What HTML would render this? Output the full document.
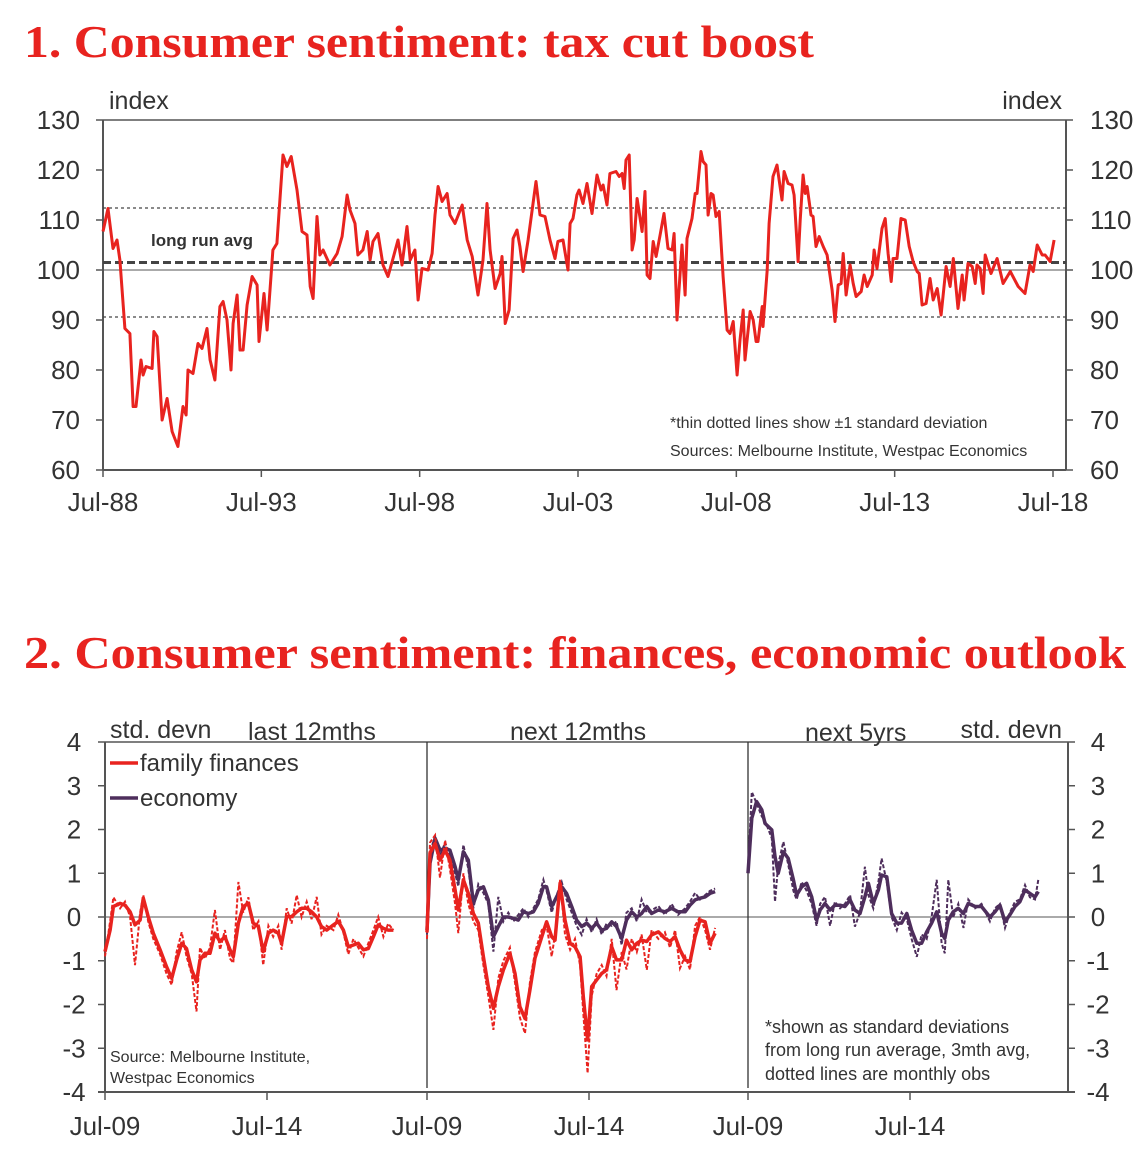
<!DOCTYPE html>
<html><head><meta charset="utf-8">
<style>
html,body{margin:0;padding:0;background:#fff;}
svg{display:block;font-family:"Liberation Sans",sans-serif;}
.t{font-family:"Liberation Serif",serif;font-weight:bold;fill:#e8231f;}
</style></head>
<body>
<svg id="svg" width="1141" height="1163" viewBox="0 0 1141 1163" xmlns="http://www.w3.org/2000/svg">
<text class="t" x="24" y="57" font-size="46" textLength="790" lengthAdjust="spacingAndGlyphs">1. Consumer sentiment: tax cut boost</text>
<text class="t" x="24" y="668" font-size="46" textLength="1102" lengthAdjust="spacingAndGlyphs">2. Consumer sentiment: finances, economic outlook</text>
<g id="c1"></g>
<g id="c2"></g>
</svg>
<script>
// ---------- Chart 1 data ----------
const c1Months = [0,1.9,3.8,5.3,6.4,8.3,10.2,11.4,12.5,14.4,15.2,16.3,18.6,19.3,20.5,22.4,24.3,26.2,28.4,30.3,31.5,32.2,34.1,36.0,37.5,39.4,40.6,42.4,44.3,45.5,47.0,48.5,49.3,50.8,51.9,53.1,54.6,56.5,58.4,59.1,61.0,62.2,64.4,65.9,68.2,69.7,71.3,73.5,75.4,77.3,78.5,79.6,81.1,82.2,83.4,86.0,88.7,90.6,92.5,93.6,95.5,96.6,98.5,100.1,101.2,102.3,104.2,106.1,108.0,109.9,111.8,113.3,115.2,116.4,118.2,119.4,120.9,123.2,124.7,125.8,127.0,128.5,130.4,131.5,133.4,136.1,138.0,139.9,142.1,144.0,145.5,146.7,148.6,150.5,151.2,152.4,153.9,155.4,156.9,158.0,159.2,161.1,164.1,165.6,167.5,169.4,171.3,172.4,174.3,176.2,
177.0,178.1,179.6,180.4,181.9,183.4,185.3,187.2,188.7,189.5,191.0,192.1,194.4,195.6,196.7,197.5,198.2,199.4,200.5,201.3,202.4,204.3,205.4,206.2,207.3,208.5,209.6,211.1,212.6,214.1,215.7,216.4,217.5,219.4,220.6,221.3,223.2,224.4,225.1,226.6,227.4,228.5,229.3,230.4,231.2,232.3,233.5,235.0,236.5,237.6,238.8,240.3,241.4,242.6,243.3,245.2,246.4,247.5,248.2,249.8,250.1,251.7,252.4,253.9,255.4,257.3,258.1,259.6,261.1,261.9,263.4,264.2,265.3,266.1,266.8,268.3,269.1,270.2,271.4,272.9,274.4,276.3,277.4,278.6,279.7,280.5,281.6,283.1,284.3,285.4,287.3,288.4,289.6,291.5,292.2,293.3,295.2,296.4,297.5,298.7,299.4,300.9,302.4,304.0,305.5,307.0,308.5,309.3,310.4,311.9,313.4,314.6,316.1,317.6,319.5,321.0,322.2,324.0,325.6,326.3,327.8,329.4,330.5,331.2,332.4,333.5,334.3,336.5,338.8,341.1,343.8,346.8,349.4,351.3,352.5,354.0,355.9,357.0,358.9,360.4];
const c1Values = [107.7,112.3,104.3,106,102,88.3,87.3,72.7,72.7,82,79,80.7,80.3,87.7,86.7,70,74.3,67.7,64.7,72.7,71,80,79.3,85.3,84.3,88.3,82,78,92.7,93.7,90,80,89.3,95,84,84,93,98.7,97,85.7,95.3,88,104,105.3,123,120.7,122.7,116,107.7,107,96.7,94.3,110.7,103,104,101,103.3,106.7,115,112,109.3,103,104,107.7,102,105.7,107.3,101,98.7,102.3,106,101,108.7,102,104,94,100.3,100,103.3,111,116.7,113.7,115.3,111,109.3,113,106,102.7,95,102,113.3,104,96.3,99.3,102.7,89.3,92,106.3,108,104.7,99.7,106,117.7,111,110.7,106,102.3,105.7,106,100,
109.3,110.3,115,116,113.3,117.3,111.3,119,116,117,113,119.3,119.7,118.7,119.3,116.3,122,123,104,106,114.3,107.7,115.7,99,98.3,105.7,102.7,107,111.3,104.3,104,107.3,90,105,95,106.3,110.3,115.3,115.3,123.7,121.7,121,111,115.3,115,110.7,111.7,98.7,88,87.3,89.7,79,86,92,82,91.7,90,85.7,85.7,92.7,88.7,100,109.3,118.7,121,114,119.7,117.3,117,115,101.7,110,119,115.3,116.7,111,110.7,104.7,106.7,104.7,103,96,89.7,97,97.3,103.3,95,101,97.3,94.7,95.7,99,96.7,99,104,100.3,108.3,110.3,103.3,97.7,102.3,102.3,110.3,110,104.7,101.7,99.7,99.3,93,93.3,98.3,94,96.3,91,100.7,96.7,102.3,92.3,99,94,101.3,100.7,97.3,101,100.3,95.3,103,99.3,102.3,97.3,99.7,96.7,95.3,101,99.7,105,103,103,101.7,106];
const c1YTicks = [60,70,80,90,100,110,120,130];
const c1XLabels = ["Jul-88","Jul-93","Jul-98","Jul-03","Jul-08","Jul-13","Jul-18"];
const c1Avg = 101.5;
const c1SdHigh = 112.4;
const c1SdLow = 90.6;

// ---------- Chart 2 data ----------
const p1Months = [0,1.9,3.1,5.6,7.4,9.3,11.1,13,14.2,16,17.9,20.4,22.8,24.7,26.5,28.4,30.2,32.1,33.9,35.2,37,38.9,40.7,42.6,44.4,46.3,47.5,49.4,51.2,53.1,54.9,56.8,58.6,60.5,62.3,64.2,65.4,67.3,69.1,71,72.8,74.7,76.5,78.4,80.2,82.1,84.6,86.4,88.3,90.1,92,93.8,95.7,97.5,99.4,101.2,103.1,104.9,106.8];
const p1Family = [-0.79,-0.3,0.24,0.31,0.27,0.12,-0.18,-0.07,0.43,0.01,-0.37,-0.75,-1.14,-1.4,-0.98,-0.6,-0.72,-1.21,-1.48,-0.98,-0.83,-0.83,-0.37,-0.56,-0.45,-0.75,-0.91,-0.14,0.24,0.31,-0.14,-0.22,-0.79,-0.37,-0.3,-0.37,-0.6,0.01,0.01,0.12,0.2,0.2,0.12,0,-0.22,-0.3,-0.18,-0.1,-0.3,-0.68,-0.64,-0.6,-0.75,-0.72,-0.45,-0.18,-0.26,-0.3,-0.3];
const p1FamilyMonthly = [-0.9,-0.1,0.45,0.2,0.35,0.0,-1.1,0.1,0.5,-0.1,-0.5,-0.85,-1.3,-1.55,-0.8,-0.35,-0.9,-1.3,-2.16,-0.7,-0.95,-0.7,0.16,-0.75,-0.3,-0.95,-1.05,0.8,0.1,0.45,-0.3,-0.1,-1.1,-0.2,-0.45,-0.2,-0.75,0.2,-0.15,0.5,0.0,0.35,-0.05,0.46,-0.4,-0.2,-0.3,0.05,-0.35,-0.85,-0.5,-0.7,-0.9,-0.6,-0.3,0.0,-0.45,-0.15,-0.3];
const p2FamMonths = [0,1.1,3,4.8,6.7,8.5,10.4,11.6,13.5,15.3,17.2,19,20.9,22.7,24.6,26.4,28.3,30.7,32.6,34.4,36.3,38.1,40,42.5,44.3,46.2,47.4,49.3,51.1,53,54.8,56.7,57.9,59.5,61,62.8,64.7,66.5,68.4,70.2,72.1,73.9,75.8,77.7,79.5,81.4,83.2,85.7,88.1,90,91.9,93.7,95.6,97.4,99.3,101.1,103,104.8,106.7];
const p2Family = [-0.35,1.46,1.68,1.3,1.53,1.3,0.62,0.16,0.85,0.54,0.08,-0.14,-0.91,-1.59,-2.09,-1.59,-1.21,-0.83,-1.29,-2.05,-2.32,-1.67,-0.94,-0.45,-0.11,-0.45,-0.53,0.77,-0.07,-0.6,-0.68,-0.91,-1.82,-2.81,-1.59,-1.44,-1.29,-1.21,-0.68,-0.98,-0.98,-0.53,-0.75,-0.6,-0.53,-0.56,-0.41,-0.34,-0.49,-0.56,-0.45,-0.75,-0.98,-1.02,-0.45,-0.07,-0.11,-0.6,-0.37];
const p2FamilyMonthly = [-0.5,1.7,1.87,0.9,1.75,1.1,0.3,-0.37,1.0,0.3,-0.1,-0.3,-1.1,-1.8,-2.58,-1.4,-1.0,-0.7,-1.5,-2.3,-2.66,-1.5,-0.8,-0.3,-0.2,-0.9,-0.4,0.85,-0.4,-0.75,-0.5,-1.1,-2.2,-3.57,-1.8,-1.3,-1.1,-1.35,-0.5,-1.67,-0.8,-1.2,-0.5,-0.8,-0.4,-1.21,-0.3,-0.5,-0.35,-0.7,-0.3,-1.17,-0.9,-1.2,-0.2,0.0,-0.3,-0.75,-0.25];
const p2EcoMonths = [0,1.1,3,4.8,6.7,8.5,10.4,11.6,13.5,15.3,17.2,19,20.9,22.7,24.6,26.4,28.3,30.1,32,33.8,35.7,37.5,39.4,41.2,43.1,44.3,46.2,48,49.9,51.7,53.6,55.4,57.3,59.1,61,62.8,64.7,66.5,68.4,70.2,72.1,73.9,75.8,77.7,79.5,81.4,83.2,85.7,88.1,90.6,93,95.6,97.4,99.3,101.1,103,104.8,106.7];
const p2Economy = [-0.3,1.23,1.8,1.53,1.57,1.53,1.15,0.85,1.49,1.3,0.31,0.62,0.69,0.39,-0.45,-0.22,0,0,-0.03,-0.07,0.12,0.08,0.12,0.31,0.69,0.69,0.24,0.46,0.69,0.54,0.24,-0.07,-0.22,-0.14,-0.26,-0.14,-0.3,-0.26,-0.11,-0.22,-0.49,-0.07,0.12,0,0.08,0.24,0.08,0.16,0.12,0.2,0.12,0.12,0.27,0.39,0.43,0.46,0.54,0.58];
const p2EconomyMonthly = [-0.4,1.5,1.84,1.4,1.7,1.4,1.0,0.7,1.65,1.1,0.2,0.75,0.55,0.3,-0.79,0.46,-0.1,0.1,-0.1,0.05,0.2,0.0,0.2,0.4,0.85,0.6,0.1,0.5,0.8,0.4,0.1,-0.2,-0.41,-0.05,-0.35,-0.05,-0.4,-0.15,-0.2,-0.1,-0.64,0.1,0.2,-0.1,0.4,0.1,0.15,0.25,0.05,0.3,0.05,0.2,0.35,0.55,0.4,0.5,0.6,0.65];
const p3Months = [0,1.4,3.2,5.1,6.3,8.8,10,11.2,13.1,14.9,16.8,18,19.9,21.7,23.6,25.4,26.7,28.5,30.4,32.2,34.1,35.9,37.8,39.6,41.5,43.3,44.6,46.4,48.3,49.5,51.4,53.2,55.1,56.9,58.8,60.6,62.5,64.3,66.2,68,69.9,71.7,72.9,74.2,76,77.9,79.8,81.6,84.1,86.5,89.6,91.5,93.3,95.2,97,98.9,100.7,102.6,104.4,106.3,107.5];
const p3Economy = [1.0,2.26,2.64,2.45,2.14,1.99,1.38,1.0,1.49,1.34,0.85,0.5,0.69,0.77,0.46,-0.07,0.16,0.31,0.16,0.27,0.27,0.24,0.39,0.16,0.08,0.46,0.77,0.31,0.62,0.96,0.92,0.08,-0.14,-0.14,0.08,-0.3,-0.6,-0.6,-0.34,-0.14,0.12,-0.37,-0.49,-0.07,0.12,0.2,0.08,0.31,0.24,0.24,0,0.12,0.27,-0.11,0.05,0.24,0.35,0.62,0.54,0.46,0.58];
const p3EconomyMonthly = [1.1,2.86,2.6,2.3,2.2,1.8,0.35,1.2,1.72,1.2,0.6,0.4,0.8,0.6,0.3,-0.2,0.3,0.46,-0.2,0.35,0.2,0.3,0.5,-0.22,0.1,1.15,0.5,0.2,0.8,1.34,0.8,0.0,-0.3,0.1,-0.05,-0.5,-0.91,-0.4,-0.5,0.0,0.85,-0.6,-0.83,0.85,0.0,0.3,-0.25,0.4,0.2,0.3,-0.1,0.2,0.3,-0.25,0.1,0.35,0.4,0.73,0.45,0.4,0.85];
const c2YTicks = [-4,-3,-2,-1,0,1,2,3,4];
const c2XLabels = ["Jul-09","Jul-14"];

const NS = "http://www.w3.org/2000/svg";
function mk(parent, tag, attrs, text){
  const e = document.createElementNS(NS, tag);
  for (const k in attrs) e.setAttribute(k, attrs[k]);
  if (text !== undefined) e.textContent = text;
  parent.appendChild(e);
  return e;
}
const RED = "#e8231f", PURPLE = "#4e2e5c", AX = "#555", TXT = "#333";

// ---------- Chart 1 ----------
(function(){
  const g = document.getElementById('c1');
  const L = 103, R = 1066, T = 120, B = 470;
  const yS = v => B - (v - 60) / 70 * (B - T);
  const xS = m => L + m / 360 * (1053 - L);
  c1YTicks.forEach(v => {
    const y = yS(v);
    let t = mk(g,'line',{x1:L-7,x2:L,y1:y,y2:y,stroke:AX,'stroke-width':1.5});
     
    t = mk(g,'line',{x1:R,x2:R+7,y1:y,y2:y,stroke:AX,'stroke-width':1.5});
     
    let lb = mk(g,'text',{x:80,y:y+9,'text-anchor':'end','font-size':26,fill:TXT},String(v));
     
    lb = mk(g,'text',{x:1090,y:y+9,'font-size':26,fill:TXT},String(v));
     
  });
  c1XLabels.forEach((s,i) => {
    const x = xS(i*60);
    const t = mk(g,'line',{x1:x,x2:x,y1:B,y2:B+7,stroke:AX,'stroke-width':1.5});
     
    const lb = mk(g,'text',{x:x,y:511,'text-anchor':'middle','font-size':26,fill:TXT},s);
     
  });
  let a;
  a = mk(g,'line',{x1:L,x2:R,y1:T,y2:T,stroke:AX,'stroke-width':1.5});  
  a = mk(g,'line',{x1:L,x2:L,y1:T,y2:B,stroke:AX,'stroke-width':2});  
  a = mk(g,'line',{x1:R,x2:R,y1:T,y2:B,stroke:AX,'stroke-width':2});  
  a = mk(g,'line',{x1:L,x2:R,y1:B,y2:B,stroke:AX,'stroke-width':2});  
  a = mk(g,'line',{x1:L,x2:R,y1:yS(100),y2:yS(100),stroke:AX,'stroke-width':1});  
  a = mk(g,'line',{x1:L,x2:R,y1:yS(c1SdHigh),y2:yS(c1SdHigh),stroke:'#444','stroke-width':1.3,'stroke-dasharray':'3,3'});  
  a = mk(g,'line',{x1:L,x2:R,y1:yS(c1SdLow),y2:yS(c1SdLow),stroke:'#444','stroke-width':1.3,'stroke-dasharray':'3,3'});  
  a = mk(g,'line',{x1:L,x2:R,y1:yS(c1Avg),y2:yS(c1Avg),stroke:'#444','stroke-width':3,'stroke-dasharray':'8,4'});  
  const n = Math.min(c1Months.length, c1Values.length);
  let d = '';
  for (let i=0;i<n;i++) d += (i?'L':'M') + xS(c1Months[i]).toFixed(1) + ',' + yS(c1Values[i]).toFixed(1);
  a = mk(g,'path',{d:d,fill:'none',stroke:RED,'stroke-width':3,'stroke-linejoin':'round'});  
  a = mk(g,'text',{x:109,y:109,'font-size':25,fill:TXT},'index');  
  a = mk(g,'text',{x:1062,y:109,'font-size':25,fill:TXT,'text-anchor':'end'},'index');  
  a = mk(g,'text',{x:151,y:246,'font-size':17,'font-weight':'bold',fill:TXT},'long run avg');  
  a = mk(g,'text',{x:670,y:428,'font-size':16,fill:TXT},'*thin dotted lines show \u00b11 standard deviation');  
  a = mk(g,'text',{x:670,y:456,'font-size':16,fill:TXT},'Sources: Melbourne Institute, Westpac Economics');  
})();

// ---------- Chart 2 ----------
(function(){
  const g = document.getElementById('c2');
  const L = 105, R = 1068, T = 742, B = 1092;
  const starts = [105, 427, 748];
  const pxPerMonth = 2.7;
  const yS = v => B - (v + 4) / 8 * (B - T);
  const xS = (p, m) => starts[p] + m * pxPerMonth;
  c2YTicks.forEach(v => {
    const y = yS(v);
    let t = mk(g,'line',{x1:L-7,x2:L,y1:y,y2:y,stroke:AX,'stroke-width':1.5});
     
    t = mk(g,'line',{x1:R,x2:R+7,y1:y,y2:y,stroke:AX,'stroke-width':1.5});
     
    let lb = mk(g,'text',{x:74,y:y+9,'text-anchor':'middle','font-size':26,fill:TXT},String(v));
     
    lb = mk(g,'text',{x:1098,y:y+9,'text-anchor':'middle','font-size':26,fill:TXT},String(v));
     
  });
  for (let p=0;p<3;p++){
    c2XLabels.forEach((s,i) => {
      const x = xS(p, i*60);
      const t = mk(g,'line',{x1:x,x2:x,y1:B,y2:B+8,stroke:AX,'stroke-width':1.5});
       
      const lb = mk(g,'text',{x:x,y:1135,'text-anchor':'middle','font-size':26,fill:TXT},s);
       
    });
  }
  let a;
  a = mk(g,'line',{x1:L,x2:R,y1:T,y2:T,stroke:AX,'stroke-width':1.5});  
  a = mk(g,'line',{x1:L,x2:L,y1:T,y2:B,stroke:AX,'stroke-width':2});  
  a = mk(g,'line',{x1:R,x2:R,y1:T,y2:B,stroke:AX,'stroke-width':2});  
  a = mk(g,'line',{x1:L-7,x2:R+7,y1:B,y2:B,stroke:AX,'stroke-width':2});  
  a = mk(g,'line',{x1:L,x2:R,y1:yS(0),y2:yS(0),stroke:AX,'stroke-width':1});  
  a = mk(g,'line',{x1:427,x2:427,y1:T,y2:B-4,stroke:'#333','stroke-width':1.3});  
  a = mk(g,'line',{x1:748,x2:748,y1:T,y2:B-4,stroke:'#333','stroke-width':1.3});  

  function pathD(p, ms, vs){
    const n = Math.min(ms.length, vs.length);
    let d='';
    for (let i=0;i<n;i++) d += (i?'L':'M') + xS(p, ms[i]).toFixed(1) + ',' + yS(vs[i]).toFixed(1);
    return d;
  }
  function series(p, ms, solid, monthly, color, name){
    let e = mk(g,'path',{d:pathD(p,ms,monthly),fill:'none',stroke:color,'stroke-width':2,'stroke-dasharray':'4,2'});
    
    
    e = mk(g,'path',{d:pathD(p,ms,solid),fill:'none',stroke:color,'stroke-width':3.5,'stroke-linejoin':'round'});
    
    
  }
  series(0, p1Months, p1Family, p1FamilyMonthly, RED, 'last12-family-finances');
  series(1, p2EcoMonths, p2Economy, p2EconomyMonthly, PURPLE, 'next12-economy');
  series(1, p2FamMonths, p2Family, p2FamilyMonthly, RED, 'next12-family-finances');
  series(2, p3Months, p3Economy, p3EconomyMonthly, PURPLE, 'next5yrs-economy');

  a = mk(g,'text',{x:110,y:738,'font-size':25,fill:TXT},'std. devn');  
  a = mk(g,'text',{x:1062,y:738,'font-size':25,fill:TXT,'text-anchor':'end'},'std. devn');  
  a = mk(g,'text',{x:248,y:740,'font-size':25,fill:TXT},'last 12mths');  
  a = mk(g,'text',{x:510,y:740,'font-size':25,fill:TXT},'next 12mths');  
  a = mk(g,'text',{x:805,y:741,'font-size':25,fill:TXT},'next 5yrs');  
  a = mk(g,'line',{x1:110,x2:138,y1:763,y2:763,stroke:RED,'stroke-width':3.5});  
  a = mk(g,'text',{x:140,y:771,'font-size':24,fill:TXT},'family finances');  
  a = mk(g,'line',{x1:110,x2:138,y1:798,y2:798,stroke:PURPLE,'stroke-width':3.5});  
  a = mk(g,'text',{x:140,y:806,'font-size':24,fill:TXT},'economy');  
  a = mk(g,'text',{x:110,y:1062,'font-size':16,fill:TXT},'Source: Melbourne Institute,');  
  a = mk(g,'text',{x:110,y:1083,'font-size':16,fill:TXT},'Westpac Economics');  
  a = mk(g,'text',{x:765,y:1033,'font-size':18,fill:TXT},'*shown as standard deviations');  
  a = mk(g,'text',{x:765,y:1056,'font-size':18,fill:TXT},'from long run average, 3mth avg,');  
  a = mk(g,'text',{x:765,y:1080,'font-size':18,fill:TXT},'dotted lines are monthly obs');  
})();
</script>
</body></html>
